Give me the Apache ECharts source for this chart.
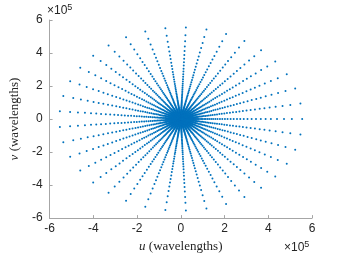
<!DOCTYPE html>
<html>
<head>
<meta charset="utf-8">
<script src="https://cdn.jsdelivr.net/npm/echarts@6/dist/echarts.min.js"></script>
<style>
  html, body { margin: 0; padding: 0; background: #fff; }
  #chart { width: 345px; height: 258px; }
</style>
</head>
<body>
<div id="chart"></div>
<script>
// spoke directions (degrees)
var spokeAngles = [0, 9.7, 19.5, 29.2, 38.9, 48.6, 58.4, 68.1, 77.8, 87.6,
  97.3, 107, 116.8, 126.5, 136.2, 145.9, 155.7, 165.4, 175.1, 184.9,
  194.6, 204.3, 214.1, 223.8, 233.5, 243.2, 253, 262.7, 272.4, 282.2,
  291.9, 301.6, 311.4, 321.1, 330.8, 340.5, 350.3]

// sample radii along one spoke (x1e5 wavelengths)
var spokeRadii = [0.03, 0.06, 0.09, 0.12, 0.15, 0.18, 0.21, 0.24, 0.27, 0.3,
  0.33, 0.36, 0.39, 0.42, 0.45, 0.48, 0.51, 0.54, 0.57, 0.6,
  0.64, 0.68, 0.72, 0.77, 0.82, 0.88, 0.94, 1.0, 1.07,
  1.14, 1.22, 1.3, 1.39, 1.48, 1.58, 1.68, 1.79,
  1.9, 2.02, 2.14, 2.28, 2.42, 2.57, 2.72, 2.88,
  3.05, 3.24, 3.44, 3.66, 3.88, 4.12, 4.4, 4.72, 5.08, 5.55]

var tickValues = [-6, -4, -2, 0, 2, 4, 6]

var points = []
spokeAngles.forEach(function(a){
  var t = a * Math.PI / 180
  spokeRadii.forEach(function(r){
    points.push([r * 1e5 * Math.cos(t), r * 1e5 * Math.sin(t)])
  })
})

var chart = echarts.init(document.getElementById('chart'))
var axisCommon = {
  type: 'value',
  min: tickValues[0] * 1e5,
  max: tickValues[tickValues.length - 1] * 1e5,
  interval: 2e5,
  splitLine: { show: false },
  axisLine: { onZero: false, lineStyle: { color: '#a6a6a6', width: 1 } },
  axisTick: { inside: true, length: 3, lineStyle: { color: '#a6a6a6' } },
  axisLabel: {
    color: '#262626', fontSize: 12, fontFamily: 'Liberation Sans',
    formatter: function(v){ return String(Math.round(v / 1e5)) }
  },
  nameTextStyle: {
    fontFamily: 'Liberation Serif', fontSize: 13, color: '#262626',
    rich: { i: { fontFamily: 'Liberation Serif', fontStyle: 'italic', fontSize: 13, color: '#262626' } }
  }
}

var option = {
  animation: false,
  grid: { left: 45, right: 33, top: 20, bottom: 37 },
  xAxis: Object.assign({}, axisCommon, {
    name: '{i|u} (wavelengths)', nameLocation: 'middle', nameGap: 20,
    axisLabel: Object.assign({}, axisCommon.axisLabel, { margin: 5 })
  }),
  yAxis: Object.assign({}, axisCommon, {
    name: '{i|v} (wavelengths)', nameLocation: 'middle', nameGap: 24,
    axisLabel: Object.assign({}, axisCommon.axisLabel, { margin: 7 })
  }),
  graphic: [
    { type: 'text', left: 47, top: 3, style: {
      text: '×10{s|5}', fill: '#262626', font: '12px Liberation Sans',
      rich: { s: { fontSize: 9, verticalAlign: 'top', padding: [0, 0, 6, 0] } } } },
    { type: 'text', left: 284, top: 240, style: {
      text: '×10{s|5}', fill: '#262626', font: '12px Liberation Sans',
      rich: { s: { fontSize: 9, verticalAlign: 'top', padding: [0, 0, 6, 0] } } } }
  ],
  series: [{
    type: 'scatter',
    data: points,
    symbol: 'circle',
    symbolSize: 2,
    itemStyle: { color: '#0072BD', opacity: 1 },
    silent: true
  }]
}
chart.setOption(option)
</script>
</body>
</html>
